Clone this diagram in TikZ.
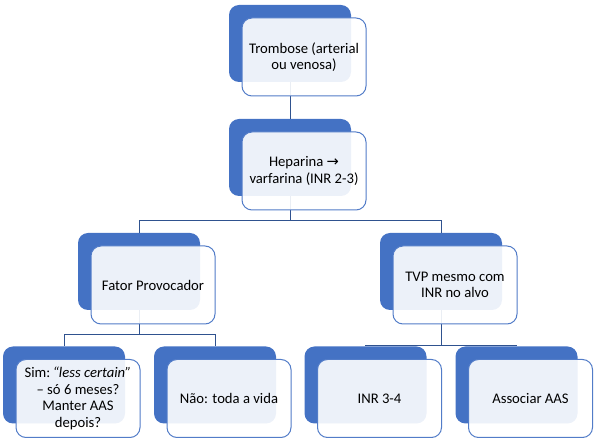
\documentclass[tikz,border=0pt]{standalone}
\usepackage{fontspec}
\setmainfont{Carlito}
\newfontfamily\arrowfont{DejaVu Sans}
\usetikzlibrary{positioning, calc}
\definecolor{boxblue}{RGB}{68, 114, 196}
\definecolor{edgeblue}{RGB}{82, 124, 200}
\definecolor{linkblue}{RGB}{47, 82, 143}
\tikzset{
    back/.style={rectangle, draw=none, fill=boxblue, rounded corners=7.5pt, minimum width=91.5pt, minimum height=57.75pt},
    front/.style={rectangle, draw=edgeblue, fill=white, fill opacity=0.9, text opacity=1, text=black, rounded corners=7.5pt, minimum width=93pt, minimum height=58.5pt, align=center, line width=0.75pt, font=\fontsize{11}{12.5}\selectfont},
    link/.style={linkblue, line width=0.75pt}
}

\begin{document}
\begin{tikzpicture}[x=0.75pt, y=-0.75pt]
    \useasboundingbox (0,0) rectangle (594,445);

    \node (trombb) [back] at (290,43.5) {};
    \node (hepb) [back] at (290,157.5) {};
    \node (fatorb) [back] at (139,271.5) {};
    \node (tvpb) [back] at (441,271.5) {};
    \node (simb) [back] at (64,385) {};
    \node (naob) [back] at (215,385) {};
    \node (inrb) [back] at (365.5,385) {};
    \node (aasb) [back] at (516.5,385) {};

    \coordinate (split1) at (290,221);
    \coordinate (split2) at (139,335);
    \coordinate (split3) at (441,345.5);
    \draw [link] (trombb.south) -- (hepb.north);
    \draw [link] (hepb.south) -- (split1) -| (fatorb.north);
    \draw [link] (split1) -| (tvpb.north);
    \draw [link] (fatorb.south) -- (split2) -| (simb.north);
    \draw [link] (split2) -| (naob.north);
    \draw [link] (tvpb.south) -- (split3) -| (inrb.north);
    \draw [link] (split3) -| (aasb.north);

    \node (tromb) [front] at ([shift={(14,13.5)}]trombb.center) {Trombose (arterial\\ou venosa)};
    \node (hep) [front] at ([shift={(14,13.5)}]hepb.center) {Heparina {\arrowfont\fontsize{11}{12.5}\selectfont →}\\varfarina (INR 2-3)};
    \node (fator) [front] at ([shift={(14,13.5)}]fatorb.center) {Fator Provocador};
    \node (tvp) [front] at ([shift={(14,13.5)}]tvpb.center) {TVP mesmo com\\INR no alvo};
    \node (sim) [front] at ([shift={(14,13.5)}]simb.center) {Sim:\,\textit{“less certain”}\\– só 6 meses?\\Manter AAS\\depois?};
    \node (nao) [front] at ([shift={(14,13.5)}]naob.center) {Não: toda a vida};
    \node (inr) [front] at ([shift={(14,13.5)}]inrb.center) {INR 3-4};
    \node (aas) [front] at ([shift={(14,13.5)}]aasb.center) {Associar AAS};
\end{tikzpicture}
\end{document}
